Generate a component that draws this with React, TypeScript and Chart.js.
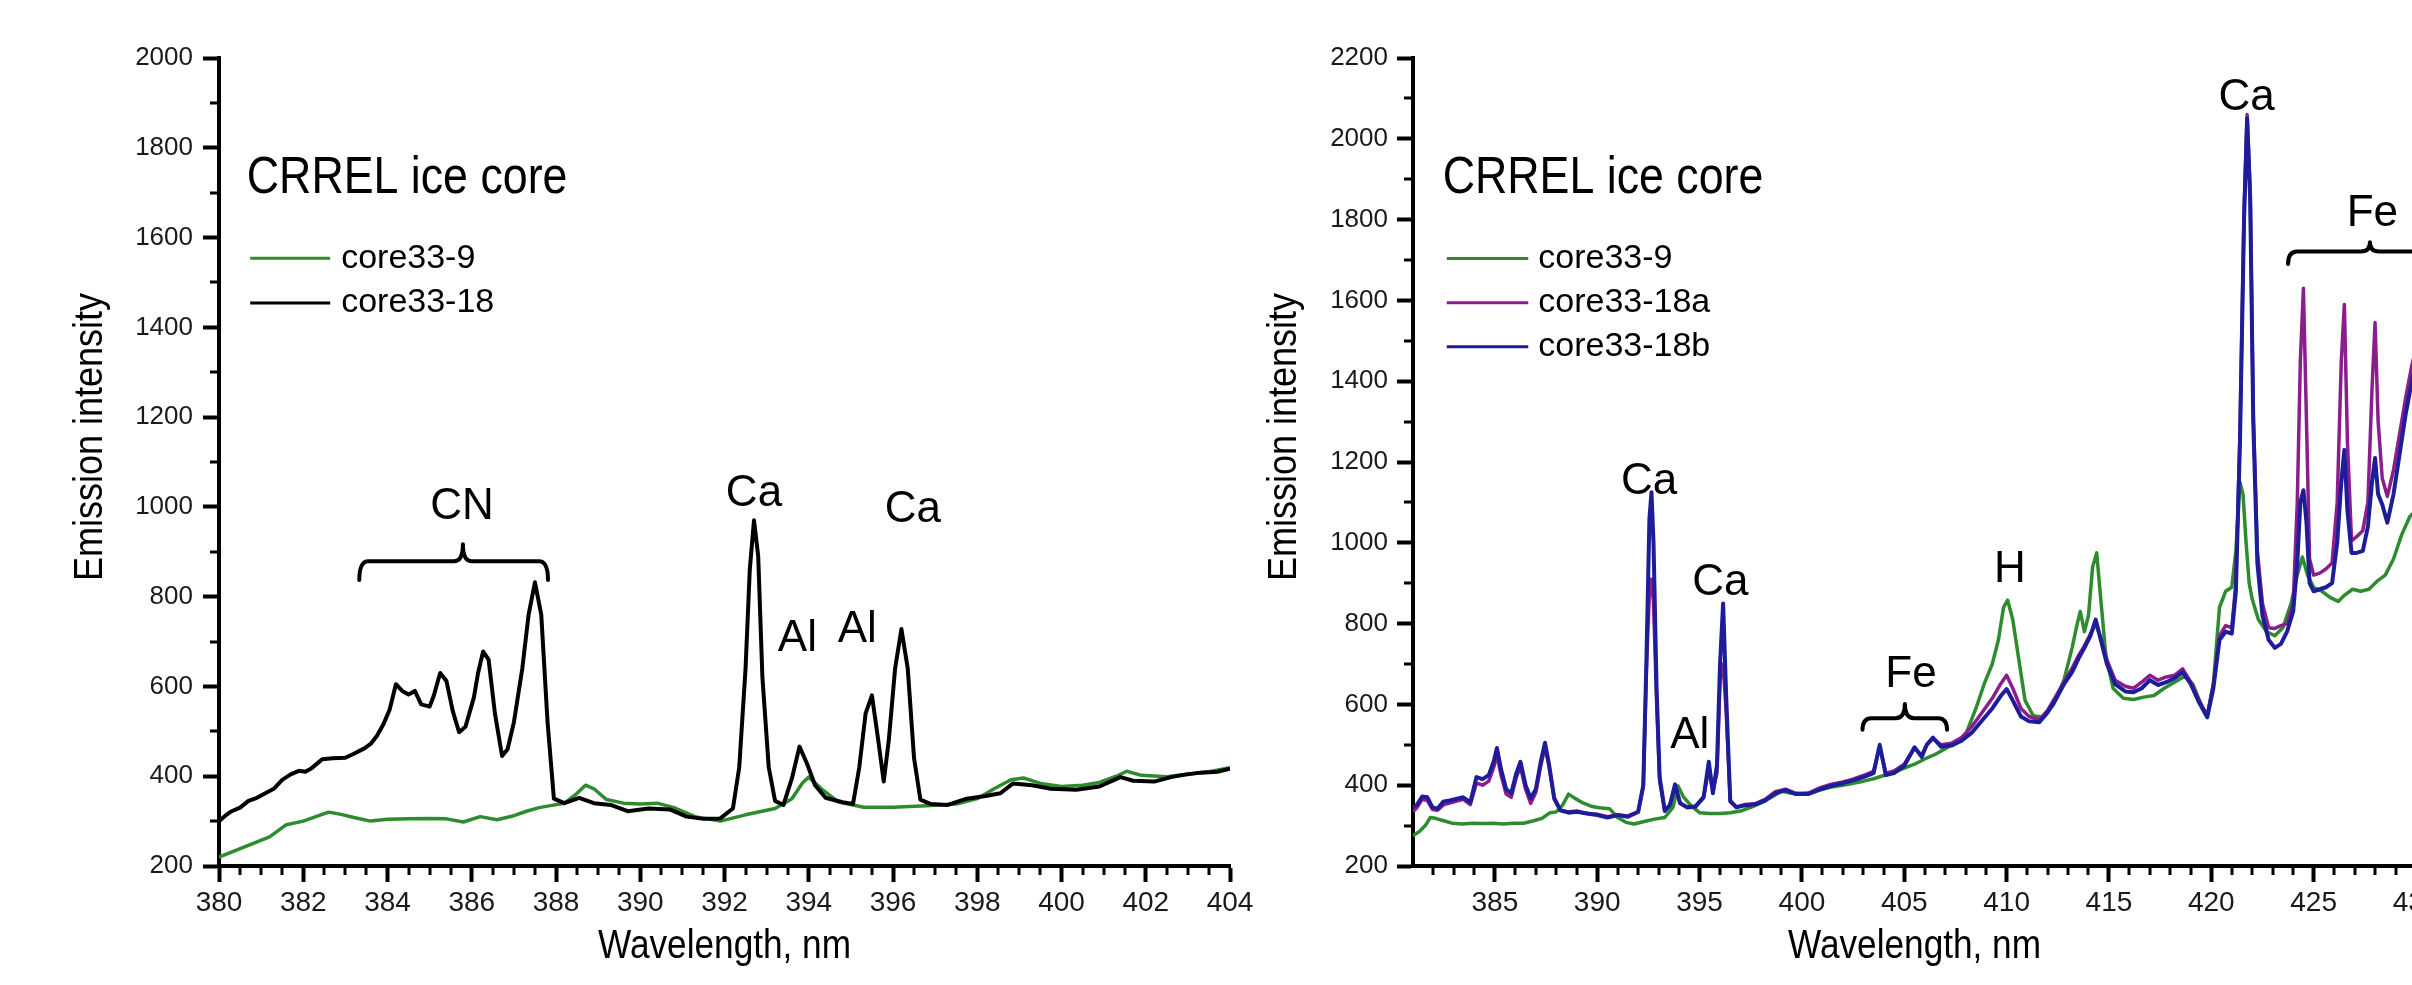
import React, { useEffect, useRef } from 'react';
import { Chart, registerables } from 'chart.js';

Chart.register(...registerables);

const FONT = "'Liberation Sans', Arial, sans-serif";

// ---------------- Left panel: 380-404 nm ----------------
const leftWl18 = [380.0, 380.15, 380.3, 380.5, 380.7, 380.9, 381.1, 381.3, 381.5, 381.7, 381.9, 382.05, 382.2, 382.45, 382.7, 383.0, 383.2, 383.45, 383.6, 383.75, 383.9, 384.05, 384.2, 384.35, 384.5, 384.65, 384.8, 385.0, 385.1, 385.25, 385.4, 385.55, 385.7, 385.85, 386.05, 386.15, 386.27, 386.4, 386.55, 386.72, 386.85, 387.0, 387.2, 387.35, 387.5, 387.65, 387.8, 387.95, 388.2, 388.55, 388.9, 389.3, 389.7, 390.2, 390.7, 391.1, 391.5, 391.9, 392.2, 392.35, 392.5, 392.6, 392.7, 392.8, 392.9, 393.05, 393.2, 393.4, 393.6, 393.78, 393.95, 394.15, 394.4, 394.8, 395.05, 395.2, 395.35, 395.5, 395.65, 395.78, 395.9, 396.05, 396.2, 396.35, 396.5, 396.65, 396.9, 397.3, 397.75, 398.2, 398.55, 398.85, 399.3, 399.75, 400.35, 400.9, 401.4, 401.7, 402.2, 402.6, 402.9, 403.3, 403.7, 404.0];
const leftI18 = [300, 312, 322, 330, 345, 352, 362, 372, 392, 404, 412, 410, 418, 438, 440, 441, 450, 462, 472, 490, 515, 548, 605, 590, 582, 590, 560, 555, 580, 630, 612, 545, 498, 510, 575, 630, 678, 660, 540, 445, 460, 520, 640, 760, 832, 760, 520, 350, 340, 352, 340, 336, 322, 328, 326, 310, 305, 306, 328, 420, 640, 860, 970, 890, 620, 420, 345, 336, 395, 466, 430, 380, 352, 342, 338, 420, 540, 580, 480, 388, 480, 640, 728, 640, 440, 348, 338, 336, 350, 356, 362, 384, 380, 372, 370, 377, 398, 390, 388, 398, 403, 408, 410, 417];

const leftWl9 = [380.0, 380.4, 380.8, 381.2, 381.6, 382.0, 382.3, 382.6, 382.9, 383.2, 383.6, 384.0, 384.5, 385.0, 385.4, 385.8, 386.2, 386.6, 387.0, 387.3, 387.6, 387.9, 388.2, 388.5, 388.7, 388.9, 389.2, 389.6, 390.0, 390.4, 390.8, 391.3, 391.9, 392.5, 393.2, 393.6, 393.85, 394.0, 394.3, 394.7, 395.3, 396.0, 396.8, 397.5, 398.0, 398.4, 398.8, 399.1, 399.5, 400.0, 400.5, 400.9, 401.3, 401.55, 401.9, 402.5, 403.0, 403.5, 404.0];
const leftI9 = [220, 235, 250, 265, 292, 300, 310, 320, 315, 308, 300, 304, 305, 306, 305, 298, 310, 303, 312, 322, 330, 335, 340, 362, 380, 372, 348, 340, 338, 340, 330, 310, 300, 314, 328, 350, 385, 398, 372, 343, 331, 331, 334, 338, 350, 372, 392, 396, 384, 377, 380, 386, 400, 411, 402, 399, 405, 410, 419];

// ---------------- Right panel: 381-430 nm ----------------
const rightWl18 = [381.0, 381.2, 381.45, 381.7, 381.95, 382.2, 382.5, 382.8, 383.1, 383.45, 383.8, 384.1, 384.4, 384.7, 384.95, 385.1, 385.3, 385.55, 385.8, 386.05, 386.25, 386.5, 386.75, 387.0, 387.25, 387.45, 387.65, 387.9, 388.2, 388.6, 389.0, 389.5, 390.0, 390.5, 391.0, 391.5, 392.0, 392.25, 392.4, 392.55, 392.65, 392.75, 392.9, 393.05, 393.3, 393.55, 393.8, 394.05, 394.4, 394.8, 395.2, 395.45, 395.65, 395.85, 396.0, 396.15, 396.3, 396.5, 396.8, 397.2, 397.7, 398.2, 398.7, 399.2, 399.7, 400.3, 400.9, 401.4, 402.0, 402.5, 403.0, 403.5, 403.8, 404.1, 404.5, 405.0, 405.5, 405.85, 406.1, 406.4, 406.8, 407.3, 407.8, 408.3, 408.8, 409.3, 409.7, 410.0, 410.3, 410.7, 411.1, 411.6, 412.0, 412.4, 412.8, 413.2, 413.5, 413.8, 414.1, 414.35, 414.6, 414.9, 415.3, 415.8, 416.2, 416.6, 417.0, 417.4, 417.8, 418.2, 418.6, 419.0, 419.4, 419.8, 420.1, 420.4, 420.7, 421.0, 421.2, 421.4, 421.6, 421.75, 421.9, 422.05, 422.25, 422.5, 422.8, 423.1, 423.4, 423.7, 424.0, 424.2, 424.35, 424.5, 424.65, 424.8, 425.0, 425.3, 425.6, 425.9, 426.15, 426.35, 426.5, 426.65, 426.85, 427.1, 427.4, 427.65, 427.85, 428.0, 428.15, 428.35, 428.6, 428.9, 429.2, 429.5, 429.8, 430.0];
const rightI18b = [345, 352, 372, 370, 345, 342, 360, 362, 366, 370, 358, 420, 415, 425, 460, 492, 440, 390, 380, 430, 458, 400, 368, 390, 460, 505, 450, 368, 338, 332, 334, 330, 326, 320, 326, 322, 334, 400, 700, 1060, 1125, 1000, 640, 420, 336, 350, 402, 355, 345, 347, 370, 458, 380, 450, 700, 850, 620, 360, 345, 350, 352, 362, 380, 388, 378, 378, 390, 398, 405, 412, 420, 430, 500, 425, 430, 448, 494, 470, 500, 518, 495, 498, 510, 530, 560, 590, 620, 638, 610, 570, 558, 556, 580, 612, 650, 680, 712, 740, 770, 810, 760, 700, 650, 632, 630, 640, 660, 648, 655, 665, 680, 650, 605, 568, 640, 760, 780, 775, 880, 1250, 1800, 2050, 1850, 1300, 950, 820, 760, 740, 750, 780, 830, 950, 1100, 1130, 1050, 900, 880, 885, 890, 900, 1000, 1150, 1230, 1080, 975, 975, 980, 1040, 1150, 1210, 1120, 1095, 1050, 1120, 1220, 1320, 1400, 1450];
const rightI18a = [335, 345, 365, 362, 340, 338, 352, 356, 360, 365, 352, 405, 400, 410, 445, 475, 425, 378, 370, 420, 445, 390, 355, 382, 450, 495, 445, 365, 338, 334, 336, 330, 328, 322, 326, 324, 334, 395, 680, 880, 910, 850, 610, 410, 338, 352, 398, 356, 346, 348, 372, 440, 385, 430, 660, 700, 580, 362, 346, 352, 354, 365, 384, 390, 380, 380, 394, 402, 408, 415, 424, 434, 495, 430, 435, 452, 492, 474, 500, 515, 500, 504, 518, 545, 580, 615, 650, 672, 640, 590, 570, 562, 585, 620, 655, 690, 720, 745, 775, 800, 765, 710, 660, 645, 640, 655, 672, 660, 668, 672, 688, 655, 610, 572, 650, 770, 795, 790, 900, 1270, 1820, 2060, 1870, 1320, 980, 850, 790, 788, 795, 800, 850, 1100, 1450, 1630, 1300, 960, 920, 925, 935, 950, 1100, 1450, 1590, 1250, 1005, 1015, 1030, 1100, 1380, 1545, 1300, 1160, 1115, 1180, 1270, 1360, 1440, 1480];

const rightWl9 = [381.0, 381.3, 381.6, 381.85, 382.1, 382.5, 382.9, 383.4, 383.9, 384.4, 384.9, 385.4, 385.9, 386.4, 386.9, 387.3, 387.7, 388.0, 388.3, 388.6, 388.9, 389.3, 389.7, 390.1, 390.6, 391.0, 391.4, 391.8, 392.3, 392.8, 393.3, 393.7, 393.95, 394.2, 394.6, 395.0, 395.5, 396.0, 396.5, 397.0, 397.5, 398.0, 398.5, 399.0, 399.5, 400.0, 400.5, 401.0, 401.5, 402.0, 402.5, 403.0, 403.5, 404.0, 404.5, 405.0, 405.5, 406.0, 406.5, 407.0, 407.5, 408.0, 408.5, 408.9, 409.3, 409.6, 409.85, 410.05, 410.3, 410.6, 410.9, 411.3, 411.8, 412.3, 412.8, 413.2, 413.45, 413.6, 413.8, 414.0, 414.2, 414.4, 414.6, 414.85, 415.2, 415.7, 416.2, 416.7, 417.2, 417.7, 418.2, 418.7, 419.1, 419.5, 419.8, 420.1, 420.4, 420.7, 421.0, 421.2, 421.4, 421.55, 421.7, 421.85, 422.0, 422.3, 422.7, 423.1, 423.5, 423.9, 424.2, 424.45, 424.7, 425.0, 425.4, 425.8, 426.2, 426.5, 426.9, 427.3, 427.7, 428.1, 428.5, 428.9, 429.3, 429.7, 430.0];
const rightI9 = [275, 285, 300, 320, 318, 312, 306, 304, 306, 305, 306, 304, 306, 306, 312, 318, 332, 334, 350, 378, 368, 356, 348, 344, 342, 320, 308, 304, 310, 316, 320, 345, 398, 372, 348, 332, 330, 330, 332, 336, 345, 356, 370, 385, 380, 378, 382, 390, 396, 400, 405, 410, 416, 424, 432, 442, 452, 465, 476, 490, 505, 525, 590, 650, 700, 760, 840, 858, 810, 710, 610, 572, 568, 600, 660, 740, 800, 830, 780, 820, 940, 975, 860, 720, 640, 615, 612, 618, 622, 640, 655, 670, 650, 600, 572, 650, 840, 880, 890, 980, 1150, 1120, 1000, 900, 860, 810, 780, 770, 790, 850, 920, 965, 920, 890, 880, 865, 855, 870, 885, 880, 885, 905, 920, 960, 1020, 1065, 1080];

// ---------------- Text annotations (data coordinates) ----------------
const leftPeakText = ['CN', 'Ca', 'Al', 'Al', 'Ca'];
const leftPeakX = [385.77, 392.7, 393.73, 395.15, 396.47];
const leftPeakY = [973, 1002, 678, 698, 966];

const rightPeakText = ['Ca', 'Al', 'Ca', 'Fe', 'H', 'Ca', 'Fe'];
const rightPeakX = [392.53, 394.52, 396.02, 405.33, 410.16, 421.73, 427.87];
const rightPeakY = [1120, 491, 871, 643, 903, 2071, 1784];

// braces: [from, to, mid, level, end, cusp]
const leftBraces = [[383.33, 387.81, 385.79, 879, 837, 917]];
const rightBraces = [
  [402.96, 407.09, 405.03, 566, 537, 601],
  [423.75, 431.75, 427.75, 1721, 1690, 1744],
];

const GREEN = '#2e8b2e';
const PURPLE = '#8c1d8c';
const BLUE = '#1d1d9a';
const BLACK = '#000000';

type Series = { label: string; wl: number[]; val: number[]; color: string; width: number; order: number };
type Spec = {
  left: number; width: number;
  xMin: number; xMax: number; xStep: number; xMinor: number;
  yMin: number; yMax: number; yStep: number; yMinor: number;
  yAxisWidth: number; yTickPad: number;
  series: Series[];
  peakText: string[]; peakX: number[]; peakY: number[];
  braces: number[][];
  title: [number, number];
  legend: { x1: number; x2: number; textX: number; rows: number[] };
};

const CANVAS_H = 985;
const PLOT_TOP = 58;
const X_AXIS_H = 119;
const PAD_RIGHT = 30;

function drawSquished(ctx: CanvasRenderingContext2D, text: string, x: number, y: number, size: number, sx: number, align: CanvasTextAlign, rot = 0) {
  ctx.save();
  ctx.translate(x, y);
  if (rot) ctx.rotate(rot);
  ctx.scale(sx, 1);
  ctx.font = `${size}px ${FONT}`;
  ctx.textAlign = align;
  ctx.textBaseline = 'alphabetic';
  ctx.fillText(text, 0, 0);
  ctx.restore();
}

function decorPlugin(spec: Spec) {
  return {
    id: 'panelDecor',
    afterDraw(chart: any) {
      const ctx: CanvasRenderingContext2D = chart.ctx;
      const a = chart.chartArea;
      const xs = chart.scales.x;
      const ys = chart.scales.y;
      const px = (v: number) => xs.getPixelForValue(v);
      const py = (v: number) => ys.getPixelForValue(v);
      const isMajor = (v: number, s: number) => Math.abs(v / s - Math.round(v / s)) < 1e-6;
      ctx.save();

      // minor ticks
      ctx.strokeStyle = '#000';
      ctx.lineWidth = 3;
      ctx.beginPath();
      for (let k = Math.ceil(spec.xMin / spec.xMinor - 1e-9); k * spec.xMinor <= spec.xMax + 1e-9; k++) {
        const v = k * spec.xMinor;
        if (isMajor(v, spec.xStep) || Math.abs(v - spec.xMin) < 1e-9) continue;
        const x = Math.round(px(v));
        ctx.moveTo(x, a.bottom);
        ctx.lineTo(x, a.bottom + 9);
      }
      for (let k = Math.ceil(spec.yMin / spec.yMinor - 1e-9); k * spec.yMinor <= spec.yMax + 1e-9; k++) {
        const v = k * spec.yMinor;
        if (isMajor(v, spec.yStep)) continue;
        const y = Math.round(py(v));
        ctx.moveTo(a.left - 9, y);
        ctx.lineTo(a.left, y);
      }
      ctx.stroke();

      // axis titles (condensed face)
      ctx.fillStyle = '#000';
      drawSquished(ctx, 'Wavelength, nm', (a.left + a.right) / 2, a.bottom + 92, 40, 0.88, 'center');
      drawSquished(ctx, 'Emission intensity', a.left - 117, (a.top + a.bottom) / 2 - 25, 40, 0.9, 'center', -Math.PI / 2);

      // panel title
      drawSquished(ctx, 'CRREL ice core', px(spec.title[0]), py(spec.title[1]), 52, 0.86, 'left');

      // legend
      const lg = spec.legend;
      spec.series.forEach((s, i) => {
        const y = py(lg.rows[i]);
        ctx.strokeStyle = s.color;
        ctx.lineWidth = 3;
        ctx.beginPath();
        ctx.moveTo(px(lg.x1), y);
        ctx.lineTo(px(lg.x2), y);
        ctx.stroke();
        ctx.fillStyle = '#000';
        ctx.font = `34px ${FONT}`;
        ctx.textAlign = 'left';
        ctx.textBaseline = 'middle';
        ctx.fillText(s.label, px(lg.textX), y);
      });

      // peak labels
      ctx.fillStyle = '#000';
      ctx.font = `44px ${FONT}`;
      ctx.textAlign = 'center';
      ctx.textBaseline = 'alphabetic';
      spec.peakText.forEach((t, i) => ctx.fillText(t, px(spec.peakX[i]), py(spec.peakY[i])));

      // braces
      ctx.strokeStyle = '#000';
      ctx.lineWidth = 4;
      ctx.lineJoin = 'round';
      ctx.lineCap = 'round';
      spec.braces.forEach(([from, to, mid, level, end, cusp]) => {
        const x1 = px(from), x2 = px(to), xm = px(mid);
        const yl = py(level), ye = py(end), yc = py(cusp);
        const r = 9;
        ctx.beginPath();
        ctx.moveTo(x1, ye);
        ctx.quadraticCurveTo(x1, yl, x1 + r, yl);
        ctx.lineTo(xm - r, yl);
        ctx.quadraticCurveTo(xm, yl, xm, yc);
        ctx.quadraticCurveTo(xm, yl, xm + r, yl);
        ctx.lineTo(x2 - r, yl);
        ctx.quadraticCurveTo(x2, yl, x2, ye);
        ctx.stroke();
      });
      ctx.restore();
    },
  };
}

function Panel({ spec }: { spec: Spec }) {
  const ref = useRef<HTMLCanvasElement | null>(null);
  useEffect(() => {
    if (!ref.current) return;
    const chart = new Chart(ref.current, {
      type: 'line',
      data: {
        datasets: spec.series.map((s) => ({
          label: s.label,
          data: s.wl.map((x, i) => ({ x, y: s.val[i] })),
          borderColor: s.color,
          backgroundColor: s.color,
          borderWidth: s.width,
          pointRadius: 0,
          tension: 0,
          fill: false,
          order: s.order,
          borderJoinStyle: 'round' as const,
        })),
      },
      options: {
        responsive: false,
        maintainAspectRatio: false,
        animation: false,
        devicePixelRatio: 1,
        events: [],
        layout: { padding: { top: PLOT_TOP, right: PAD_RIGHT, left: 0, bottom: 0 } },
        plugins: { legend: { display: false }, tooltip: { enabled: false }, title: { display: false } },
        scales: {
          x: {
            type: 'linear',
            min: spec.xMin,
            max: spec.xMax,
            ticks: {
              stepSize: spec.xStep,
              autoSkip: false,
              maxRotation: 0,
              minRotation: 0,
              includeBounds: false,
              padding: 4,
              color: '#1a1a1a',
              font: { family: FONT, size: 28 },
              callback: (v: any) => String(v),
            },
            grid: { drawOnChartArea: false, drawTicks: true, tickLength: 16, tickWidth: 4, tickColor: '#000' },
            border: { display: true, color: '#000', width: 4 },
            afterFit: (s: any) => { s.height = X_AXIS_H; },
          },
          y: {
            type: 'linear',
            min: spec.yMin,
            max: spec.yMax,
            ticks: {
              stepSize: spec.yStep,
              autoSkip: false,
              includeBounds: false,
              padding: spec.yTickPad,
              color: '#1a1a1a',
              font: { family: FONT, size: 26 },
              callback: (v: any) => String(v),
            },
            grid: { drawOnChartArea: false, drawTicks: true, tickLength: 16, tickWidth: 4, tickColor: '#000' },
            border: { display: true, color: '#000', width: 4 },
            afterFit: (s: any) => { s.width = spec.yAxisWidth; },
          },
        },
      } as any,
      plugins: [decorPlugin(spec)],
    });
    return () => chart.destroy();
  }, [spec]);
  return (
    <canvas
      ref={ref}
      width={spec.width}
      height={CANVAS_H}
      style={{ position: 'absolute', left: spec.left, top: 0 }}
    />
  );
}

const leftSpec: Spec = {
  left: 0, width: 1260,
  xMin: 380, xMax: 404, xStep: 2, xMinor: 0.5,
  yMin: 200, yMax: 2000, yStep: 200, yMinor: 100,
  yAxisWidth: 219, yTickPad: 10,
  series: [
    { label: 'core33-9', wl: leftWl9, val: leftI9, color: GREEN, width: 3.5, order: 1 },
    { label: 'core33-18', wl: leftWl18, val: leftI18, color: BLACK, width: 4, order: 0 },
  ],
  peakText: leftPeakText, peakX: leftPeakX, peakY: leftPeakY,
  braces: leftBraces,
  title: [380.66, 1699],
  legend: { x1: 380.74, x2: 382.64, textX: 382.9, rows: [1554, 1454] },
};

const rightSpec: Spec = {
  left: 1260, width: 1186,
  xMin: 381, xMax: 430, xStep: 5, xMinor: 1,
  yMin: 200, yMax: 2200, yStep: 200, yMinor: 100,
  yAxisWidth: 153, yTickPad: 9,
  series: [
    { label: 'core33-9', wl: rightWl9, val: rightI9, color: GREEN, width: 3.5, order: 2 },
    { label: 'core33-18a', wl: rightWl18, val: rightI18a, color: PURPLE, width: 3.5, order: 1 },
    { label: 'core33-18b', wl: rightWl18, val: rightI18b, color: BLUE, width: 4, order: 0 },
  ],
  peakText: rightPeakText, peakX: rightPeakX, peakY: rightPeakY,
  braces: rightBraces,
  title: [382.45, 1867],
  legend: { x1: 382.65, x2: 386.63, textX: 387.12, rows: [1704, 1594, 1485] },
};

export default function App() {
  return (
    <div
      style={{
        position: 'absolute',
        left: 0,
        top: 0,
        width: 2412,
        height: 985,
        overflow: 'hidden',
        background: '#ffffff',
      }}
    >
      <Panel spec={leftSpec} />
      <Panel spec={rightSpec} />
    </div>
  );
}
